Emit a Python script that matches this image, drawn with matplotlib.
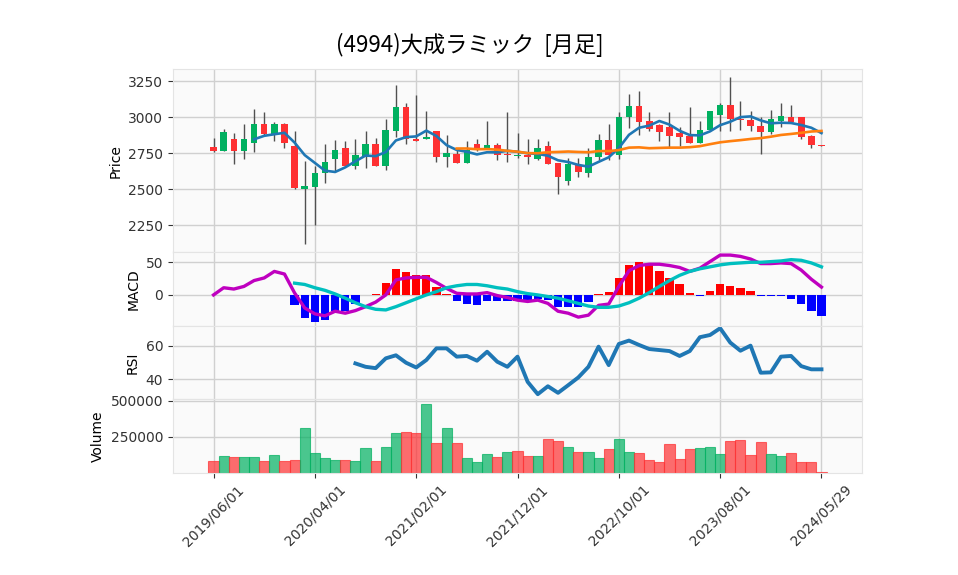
import matplotlib
matplotlib.use("Agg")
import matplotlib.pyplot as plt
import numpy as np

plt.rcParams["font.family"] = ["DejaVu Sans", "Noto Sans CJK JP"]

title = "(4994)大成ラミック  [月足]"
tick_pos = [0, 10, 20, 30, 40, 50, 60]
tick_labels = ["2019/06/01", "2020/04/01", "2021/02/01", "2021/12/01",
               "2022/10/01", "2023/08/01", "2024/05/29"]

# monthly OHLC
opens = [2790, 2768, 2850, 2768, 2824, 2954, 2884, 2954, 2801, 2500,
         2518, 2611, 2708, 2785, 2664, 2727, 2812, 2664, 2907, 3069,
         2850, 2852, 2907, 2727, 2745, 2685, 2812, 2778, 2806, 2745,
         2734, 2738, 2713, 2801, 2683, 2556, 2667, 2616, 2722, 2843,
         2741, 3000, 3079, 2972, 2947, 2931, 2891, 2870, 2819, 2910,
         3014, 3086, 2991, 2981, 2940, 2900, 2975, 3002, 3002, 2868,
         2806]
highs = [2855, 2917, 2889, 2951, 3056, 3035, 2968, 2963, 2903, 2694,
         2662, 2812, 2843, 2833, 2852, 2907, 2859, 2986, 3222, 3097,
         3155, 3042, 2907, 2880, 2773, 2833, 2847, 2972, 2819, 3039,
         2889, 2847, 2847, 2833, 2683, 2720, 2720, 2785, 2884, 2951,
         3039, 3162, 3181, 3035, 2951, 3039, 2935, 3074, 2977, 3044,
         3097, 3278, 3111, 3042, 3000, 3049, 3100, 3083, 3002, 2880,
         2806]
lows = [2760, 2765, 2674, 2708, 2757, 2880, 2833, 2785, 2500, 2120,
        2252, 2542, 2630, 2664, 2641, 2646, 2664, 2634, 2866, 2815,
        2835, 2850, 2692, 2655, 2685, 2685, 2766, 2778, 2701, 2692,
        2715, 2676, 2704, 2678, 2468, 2528, 2583, 2583, 2704, 2704,
        2708, 2924, 2875, 2905, 2836, 2785, 2803, 2819, 2819, 2910,
        2905, 2905, 2912, 2905, 2743, 2884, 2935, 2968, 2850, 2785,
        2799]
closes = [2765, 2898, 2768, 2850, 2954, 2884, 2954, 2819, 2507, 2523,
          2611, 2687, 2773, 2664, 2736, 2812, 2664, 2912, 3069, 2852,
          2838, 2863, 2727, 2750, 2685, 2773, 2773, 2806, 2741, 2741,
          2738, 2722, 2785, 2678, 2583, 2676, 2623, 2725, 2843, 2741,
          3000, 3079, 2970, 2921, 2900, 2873, 2866, 2819, 2910, 3044,
          3086, 2986, 2979, 2937, 2900, 2986, 3009, 2968, 2866, 2806,
          2799]
volumes = [81000, 117000, 110000, 110000, 110000, 81000, 124000, 81000, 88000, 307000,
           138000, 102000, 88000, 88000, 81000, 171000, 81000, 181000, 274000, 281000,
           274000, 474000, 207000, 307000, 207000, 102000, 74000, 131000, 107000, 145000,
           152000, 117000, 117000, 231000, 217000, 181000, 145000, 145000, 102000, 167000,
           231000, 145000, 138000, 88000, 74000, 202000, 95000, 167000, 174000, 181000,
           131000, 217000, 224000, 124000, 210000, 131000, 117000, 138000, 74000, 74000,
           5000]

# short moving average (blue), starts at month 4
ma_short_start = 4
ma_short = [2847, 2871, 2882, 2892, 2824, 2737, 2683, 2629, 2620, 2652,
            2694, 2734, 2730, 2758, 2839, 2862, 2867, 2907, 2870, 2806,
            2773, 2760, 2742, 2757, 2756, 2767, 2760, 2750, 2745, 2733,
            2701, 2689, 2669, 2657, 2690, 2722, 2786, 2878, 2927, 2942,
            2974, 2949, 2906, 2876, 2874, 2902, 2945, 2969, 3001, 3006,
            2978, 2958, 2962, 2960, 2946, 2927, 2890]
# long moving average (orange), starts at month 24
ma_long_start = 24
ma_long = [2783, 2783, 2778, 2779, 2775, 2767, 2761, 2751, 2750, 2757,
           2759, 2762, 2759, 2757, 2765, 2765, 2772, 2789, 2791, 2785,
           2787, 2789, 2789, 2792, 2799, 2813, 2826, 2834, 2841, 2849,
           2855, 2865, 2877, 2884, 2892, 2901, 2905]

macd = [0, 11, 9, 13, 22, 26, 36, 32, 3, -20,
        -29, -32, -25, -28, -24, -18, -11, 0, 23, 26,
        27, 27, 19, 10, 2.5, 1.5, 1.5, 3.5, -1, -4,
        -8, -10, -8, -13, -25, -28, -34, -31, -16, -14,
        13, 37, 45, 47, 47, 45, 42, 36, 41, 51,
        61, 61, 59, 55, 48, 48, 49, 48, 38, 24,
        12]
signal_start = 8
signal = [18, 16, 11, 7, 1.5, -5, -12, -18, -22, -23,
          -18, -12, -6, 0, 5, 11, 14, 16, 16, 14,
          11, 9, 5, 2, 0, -2.5, -5, -9, -13, -17,
          -19, -19, -17, -12, -5, 3.5, 13, 22, 30, 36,
          40, 43, 46, 48, 49, 50, 50, 51, 52, 54,
          53, 49, 43]
hist = [-16, -35, -41, -38, -25, -25, -14, 0, 1.5, 18,
        40, 35, 31, 30, 12, 2, -10, -14, -15, -10,
        -10, -10, -10, -9, -7, -8, -19, -19, -19, -11,
        2, 5, 26, 46, 50, 46, 37, 26, 16, 3.5,
        -1, 6, 16, 14, 11, 6, -1, -1, -1, -6,
        -14, -24, -32]

rsi_start = 14
rsi = [49.5, 47.5, 46.7, 52.5, 54.3, 49.9, 47.1, 51.5, 58.4, 58.4,
       53.5, 53.9, 51.1, 56.4, 50.5, 47.5, 53.5, 38.6, 31.3, 36.0,
       32.1, 36.6, 41.2, 47.5, 59.4, 48.5, 61.0, 63.0, 60.4, 58.0,
       57.4, 56.8, 53.9, 56.8, 65.0, 66.3, 70.3, 61.8, 57.0, 60.0,
       44.0, 44.2, 53.5, 53.9, 47.9, 46.0, 46.0]

UP = "#00b060"
DOWN = "#fe3032"
WICK = "#505050"
FACE = "#fafafa"
GRID = "#d0d0d0"

fig = plt.figure(figsize=(9.58, 5.75), dpi=100)
gs = fig.add_gridspec(4, 1, height_ratios=[2.5, 1, 1, 1], hspace=0,
                      left=0.1806, right=0.8998, top=0.880, bottom=0.178)
ax_p = fig.add_subplot(gs[0])
ax_m = fig.add_subplot(gs[1], sharex=ax_p)
ax_r = fig.add_subplot(gs[2], sharex=ax_p)
ax_v = fig.add_subplot(gs[3], sharex=ax_p)

x = np.arange(len(closes))
o = np.array(opens, dtype=float)
c = np.array(closes, dtype=float)
up = c >= o

# candles
ax_p.vlines(x, lows, highs, color=WICK, lw=1.0, zorder=2)
ax_p.bar(x, np.maximum(np.abs(c - o), 6), bottom=np.minimum(o, c), width=0.65,
         color=np.where(up, UP, DOWN), zorder=3)
ax_p.plot(np.arange(ma_short_start, ma_short_start + len(ma_short)), ma_short,
          color="#1f77b4", lw=1.9, zorder=4)
ax_p.plot(np.arange(ma_long_start, ma_long_start + len(ma_long)), ma_long,
          color="#ff7f0e", lw=1.9, zorder=4)
ax_p.set_ylim(2061, 3335)
ax_p.set_yticks([2250, 2500, 2750, 3000, 3250])
ax_p.set_ylabel("Price")

# MACD
hx = np.arange(signal_start, signal_start + len(hist))
hv = np.array(hist, dtype=float)
ax_m.bar(hx, hv, width=0.82, color=np.where(hv >= 0, "red", "blue"), zorder=2)
ax_m.plot(x, macd, color="m", lw=2.4, zorder=3)
ax_m.plot(np.arange(signal_start, signal_start + len(signal)), signal,
          color="c", lw=2.4, zorder=3)
ax_m.set_ylim(-47.4, 65)
ax_m.set_yticks([0, 50])
ax_m.set_ylabel("MACD")

# RSI
ax_r.plot(np.arange(rsi_start, rsi_start + len(rsi)), rsi, color="#1f77b4", lw=2.8)
ax_r.set_ylim(28.3, 71.7)
ax_r.set_yticks([40, 60])
ax_r.set_ylabel("RSI")

# volume, coloured by change from previous close
prev = np.concatenate([[o[0]], c[:-1]])
vup = c >= prev
ax_v.bar(x, volumes, width=1.0, color=np.where(vup, UP, DOWN), alpha=0.7,
         edgecolor=np.where(vup, UP, DOWN), lw=0.8, zorder=2)
ax_v.set_ylim(0, 510000)
ax_v.set_yticks([250000, 500000])
ax_v.set_yticklabels(["250000", "500000"])
ax_v.set_ylabel("Volume")

ax_v.set_xlim(-4, 64)
ax_v.set_xticks(tick_pos)
ax_v.set_xticklabels(tick_labels, rotation=45)

for ax in (ax_p, ax_m, ax_r, ax_v):
    ax.set_facecolor(FACE)
    ax.grid(True, color=GRID, lw=1.0)
    ax.set_axisbelow(True)
    for s in ax.spines.values():
        s.set_color("#e4e4e4")
    ax.tick_params(labelsize=10, colors="#333333", length=3.5)
    ax.yaxis.label.set_size(10)
for ax in (ax_p, ax_m, ax_r):
    ax.tick_params(axis="x", labelbottom=False, length=0)

fig.suptitle(title, x=0.49, y=0.9217, va="center", fontsize=16,
             family=["Noto Sans CJK JP", "DejaVu Sans"])

fig.savefig("out.png", dpi=100)
